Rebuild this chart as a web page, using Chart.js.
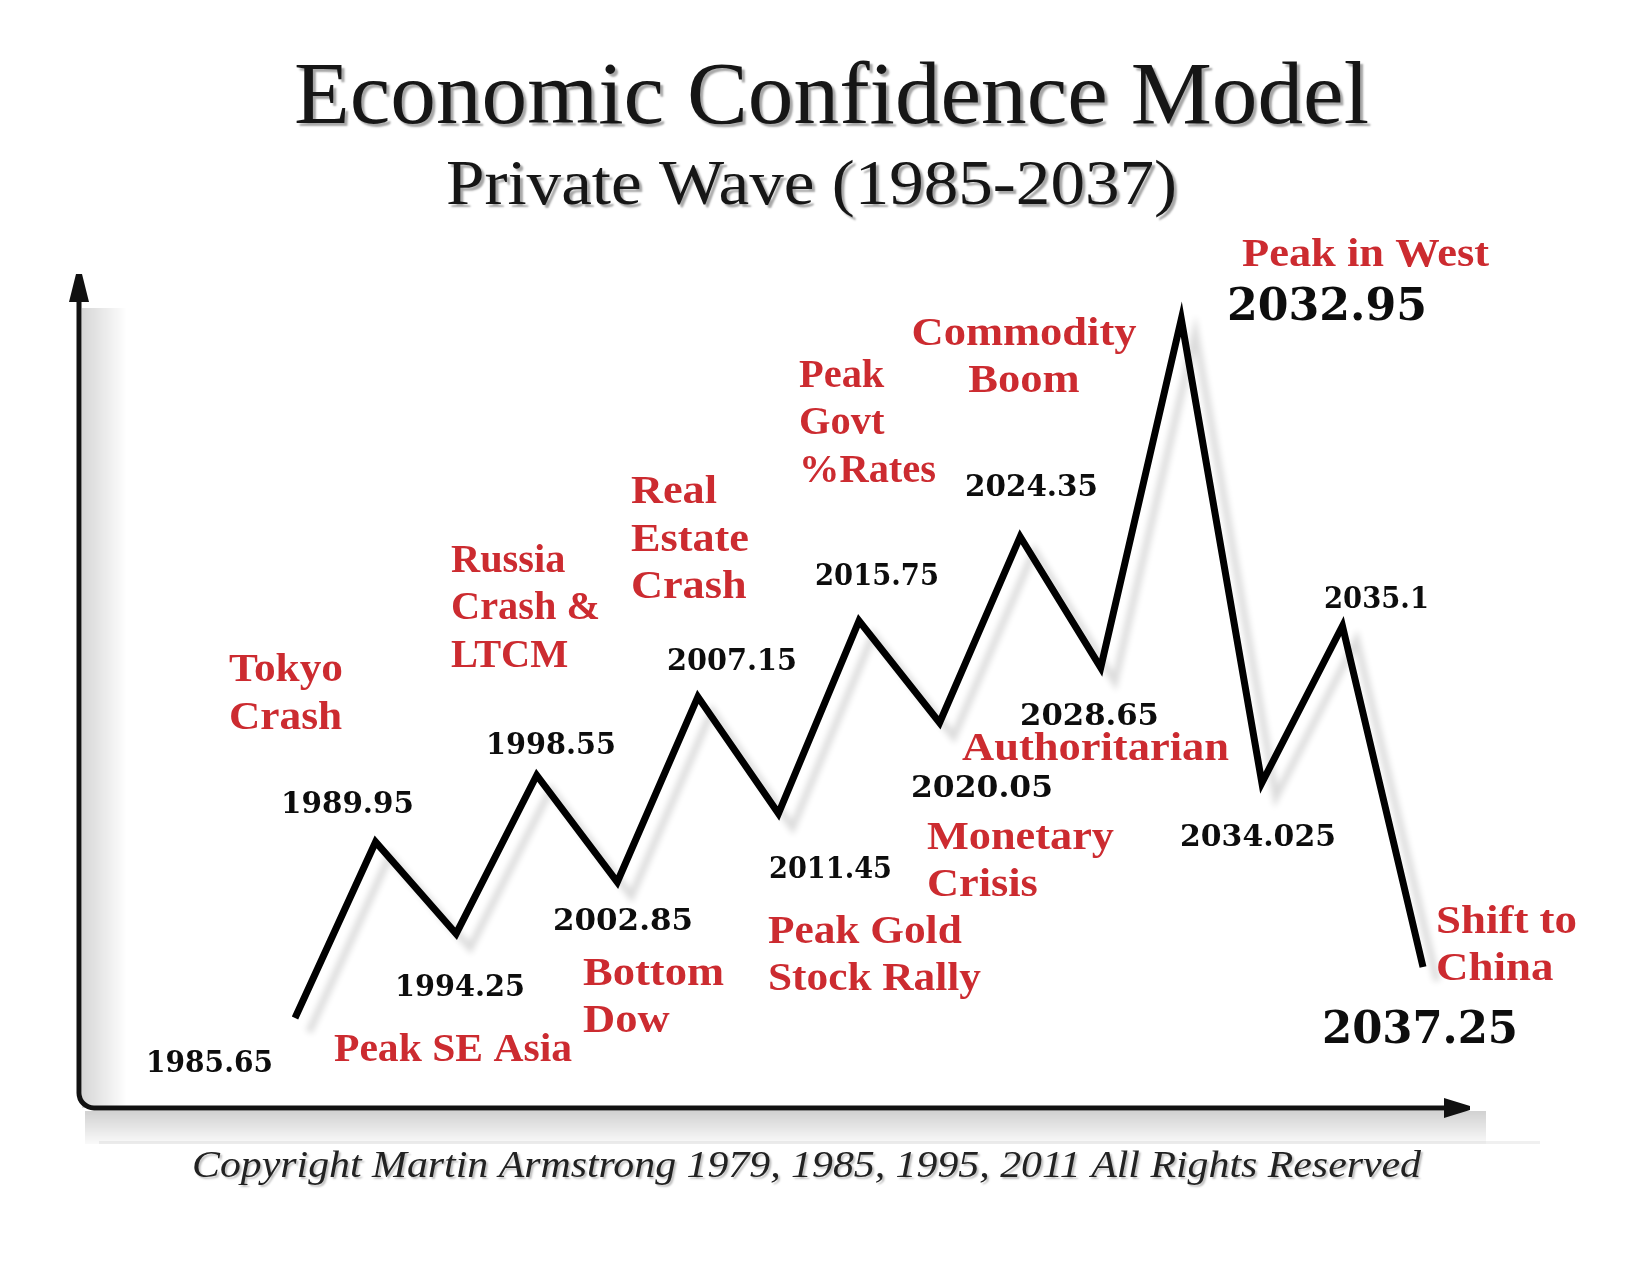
<!DOCTYPE html>
<html>
<head>
<meta charset="utf-8">
<script src="https://cdn.jsdelivr.net/npm/chart.js@4.4.0/dist/chart.umd.min.js"></script>
<style>
html,body{margin:0;padding:0;background:#ffffff;}
#wrap{width:1636px;height:1262px;position:relative;overflow:hidden;}
canvas{display:block;}
</style>
</head>
<body>
<div id="wrap"><canvas id="c" width="1636" height="1262"></canvas></div>
<script>
// ---- DATA ----
const chartTitle = 'Economic Confidence Model';
const chartSubtitle = 'Private Wave (1985-2037)';
const copyrightText = 'Copyright Martin Armstrong 1979, 1985, 1995, 2011 All Rights Reserved';
const turningYears = ['1985.65','1989.95','1994.25','1998.55','2002.85','2007.15','2011.45','2015.75','2020.05','2024.35','2028.65','2032.95','2034.025','2035.1','2037.25'];
const confidenceLevel = [10.8, 31.9, 20.9, 39.9, 27.1, 49.3, 35.3, 58.4, 46.2, 68.5, 52.8, 94.6, 39.0, 57.8, 16.9];
const eventNotes = [
  ['Tokyo','Crash'],
  ['Peak SE Asia'],
  ['Russia','Crash &','LTCM'],
  ['Real','Estate','Crash'],
  ['Bottom','Dow'],
  ['Peak Gold','Stock Rally'],
  ['Peak','Govt','%Rates'],
  ['Monetary','Crisis'],
  ['Commodity','Boom'],
  ['Authoritarian'],
  ['Peak in West'],
  ['Shift to','China']
];

// ---- LAYOUT (drawing only) ----
const notePlace = [
  {x:229, b:[681,729], w:114},
  {x:334, b:[1061], w:238},
  {x:451, b:[572,619,667], w:149},
  {x:631, b:[503,551,598], w:118},
  {x:583, b:[985,1032], w:141},
  {x:768, b:[943,990], w:213},
  {x:799, b:[387,434,482], w:137},
  {x:927, b:[849,896], w:187},
  {x:1024, b:[345,392], w:225, center:true},
  {x:962, b:[760], w:267},
  {x:1242, b:[266], w:247},
  {x:1436, b:[933,980], w:141}
];
const yearPlace = [
  [146,273,1072],[281,414,813],[395,525,996],[486,616,754],[553,693,930],
  [667,797,670],[769,892,878],[815,939,585],[911,1053,797],[965,1098,496],
  [1020,1159,725],[1227,1427,320,true],[1180,1336,846],[1324,1429,608],[1322,1518,1043,true]
];

function fitLines(ctx, lines, x, baselines, width, center){
  const widths = lines.map(l => ctx.measureText(l).width);
  const sx = width / Math.max(...widths);
  lines.forEach((l,i) => {
    ctx.save();
    const left = center ? x - widths[i]*sx/2 : x;
    ctx.translate(left, baselines[i]);
    ctx.scale(sx, 1);
    ctx.fillText(l, 0, 0);
    ctx.restore();
  });
}

const axesPlugin = {
  id:'axesPlugin',
  beforeDatasetsDraw(chart){
    const ctx = chart.ctx;
    const {left, top, right, bottom} = chart.chartArea;
    ctx.save();
    // soft shadows of the axes
    let g = ctx.createLinearGradient(left+3, 0, left+48, 0);
    g.addColorStop(0, 'rgba(0,0,0,0.16)');
    g.addColorStop(1, 'rgba(0,0,0,0)');
    ctx.fillStyle = g;
    ctx.fillRect(left+3, top+34, 45, bottom-top-34);
    g = ctx.createLinearGradient(0, bottom+3, 0, bottom+36);
    g.addColorStop(0, 'rgba(0,0,0,0.18)');
    g.addColorStop(1, 'rgba(0,0,0,0.02)');
    ctx.fillStyle = g;
    ctx.fillRect(left+6, bottom+3, right-left+10, 33);
    ctx.fillStyle = 'rgba(0,0,0,0.06)';
    ctx.fillRect(left+20, bottom+33, 1520-left, 3);
    // axis lines with rounded corner
    const r = 15;
    ctx.strokeStyle = '#111';
    ctx.lineWidth = 5;
    ctx.lineCap = 'butt';
    ctx.beginPath();
    ctx.moveTo(left, top+26);
    ctx.lineTo(left, bottom - r);
    ctx.arcTo(left, bottom, left + r, bottom, r);
    ctx.lineTo(right - 22, bottom);
    ctx.stroke();
    // arrow heads
    ctx.fillStyle = '#111';
    ctx.beginPath();
    ctx.moveTo(left-3, top);
    ctx.lineTo(left+3, top);
    ctx.lineTo(left+10, top+28);
    ctx.lineTo(left-10, top+28);
    ctx.closePath();
    ctx.fill();
    ctx.beginPath();
    ctx.moveTo(right, bottom-2);
    ctx.lineTo(right, bottom+2);
    ctx.lineTo(right-26, bottom+10);
    ctx.lineTo(right-26, bottom-10);
    ctx.closePath();
    ctx.fill();
    ctx.restore();
    // shadow for the wave line
    ctx.save();
    ctx.shadowColor = 'rgba(0,0,0,0.14)';
    ctx.shadowBlur = 6;
    ctx.shadowOffsetX = 14;
    ctx.shadowOffsetY = 14;
  },
  afterDatasetsDraw(chart){
    chart.ctx.restore();
  }
};

const textPlugin = {
  id:'textPlugin',
  afterDraw(chart){
    const ctx = chart.ctx;
    ctx.save();
    ctx.textBaseline = 'alphabetic';
    ctx.textAlign = 'left';
    // titles with slight shadow
    ctx.shadowColor = 'rgba(0,0,0,0.35)';
    ctx.shadowOffsetX = 3; ctx.shadowOffsetY = 3; ctx.shadowBlur = 2;
    ctx.fillStyle = '#161616';
    ctx.font = '88px "Liberation Serif"';
    fitLines(ctx, [chartTitle], 294, [123], 1075, false);
    ctx.font = '64px "Liberation Serif"';
    fitLines(ctx, [chartSubtitle], 446, [204], 731, false);
    ctx.shadowOffsetX = 2; ctx.shadowOffsetY = 2; ctx.shadowBlur = 2;
    ctx.shadowColor = 'rgba(0,0,0,0.25)';
    ctx.fillStyle = '#222';
    ctx.font = 'italic 38px "Liberation Serif"';
    fitLines(ctx, [copyrightText], 192, [1177], 1229, false);
    ctx.shadowColor = 'rgba(0,0,0,0)';
    ctx.shadowOffsetX = 0; ctx.shadowOffsetY = 0; ctx.shadowBlur = 0;
    // event notes
    ctx.fillStyle = '#cc2b30';
    ctx.font = 'bold 41px "Liberation Serif"';
    eventNotes.forEach((lines, i) => {
      const p = notePlace[i];
      fitLines(ctx, lines, p.x, p.b, p.w, !!p.center);
    });
    // year labels
    ctx.fillStyle = '#0d0d0d';
    turningYears.forEach((yr, i) => {
      const p = yearPlace[i];
      ctx.font = p[3] ? 'bold 44px "DejaVu Serif"' : 'bold 30px "DejaVu Serif"';
      fitLines(ctx, [yr], p[0], [p[2]], p[1]-p[0], false);
    });
    ctx.restore();
  }
};

new Chart(document.getElementById('c').getContext('2d'), {
  type:'line',
  data:{
    datasets:[{
      data: turningYears.map((yr, i) => ({x:i, y:confidenceLevel[i]})),
      borderColor:'#000',
      borderWidth:7,
      borderJoinStyle:'miter',
      borderCapStyle:'butt',
      pointRadius:0,
      tension:0,
      fill:false
    }]
  },
  options:{
    responsive:false,
    animation:false,
    devicePixelRatio:1,
    layout:{padding:{left:79, top:274, right:166, bottom:154}},
    scales:{
      x:{type:'linear', min:-2.681, max:14.583, display:false},
      y:{min:0, max:100, display:false}
    },
    plugins:{legend:{display:false}, tooltip:{enabled:false}, title:{display:false}}
  },
  plugins:[axesPlugin, textPlugin]
});
</script>
</body>
</html>
